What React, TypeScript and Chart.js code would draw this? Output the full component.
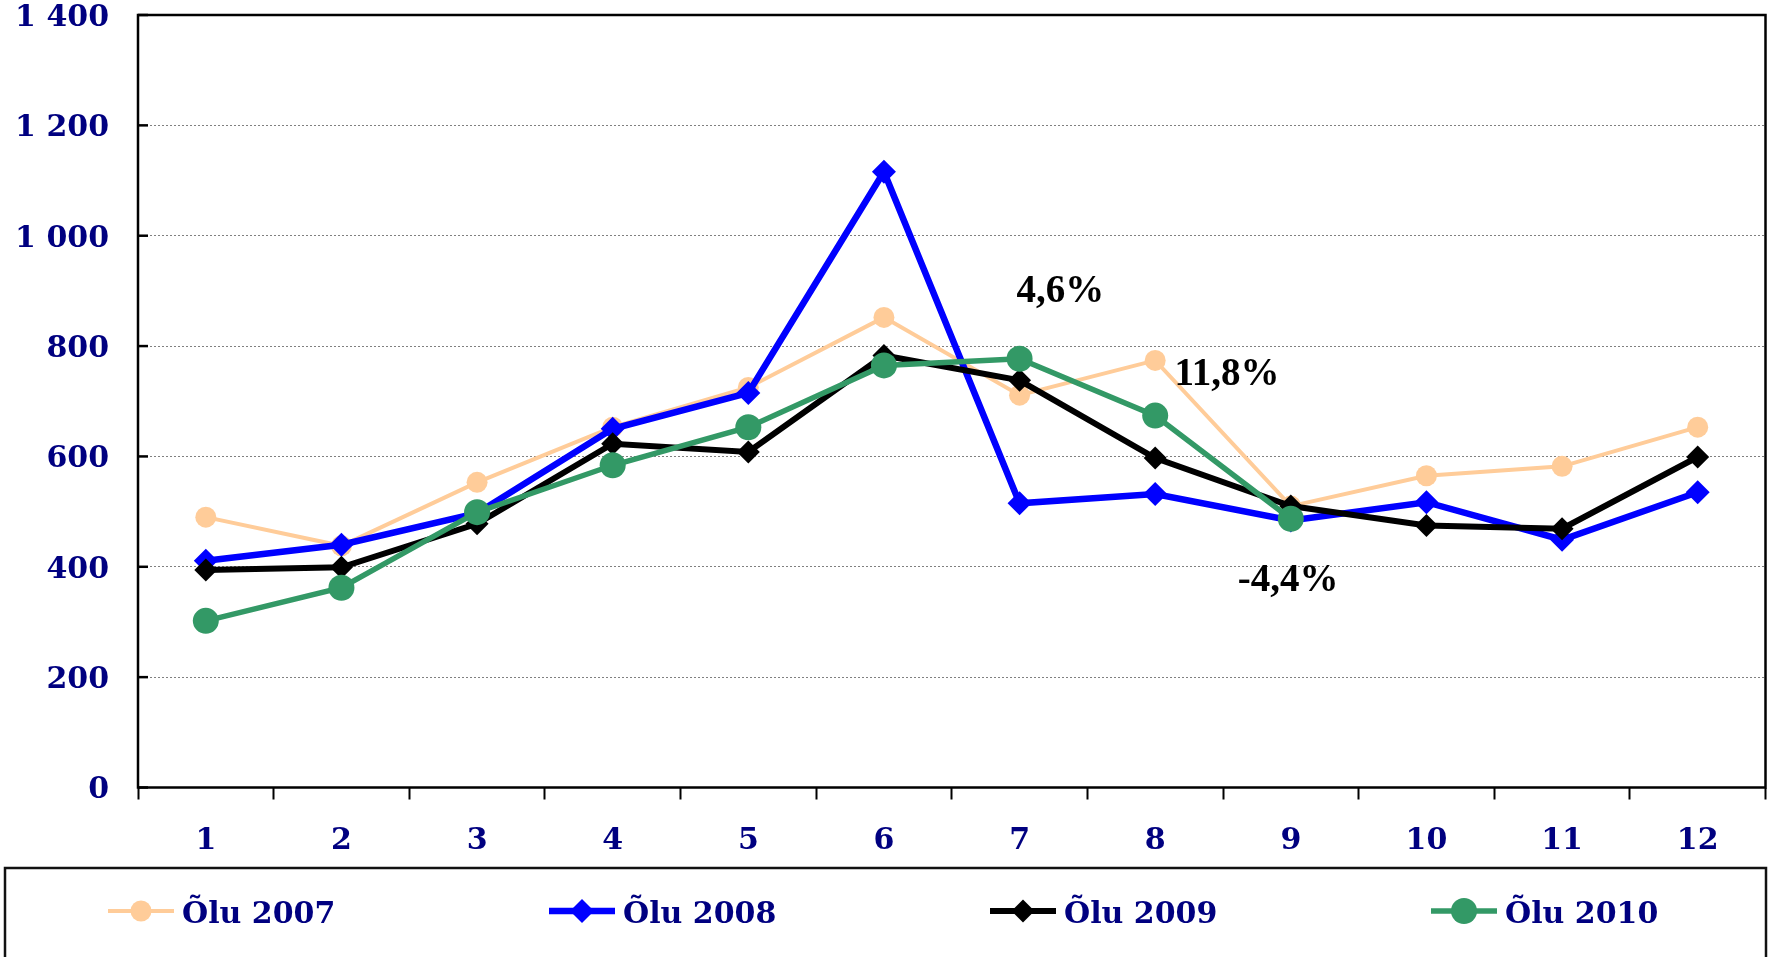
import React, { useEffect, useRef } from "react";
import { Chart, registerables } from "chart.js";

Chart.register(...registerables);

const months = ["1", "2", "3", "4", "5", "6", "7", "8", "9", "10", "11", "12"];
const olu2007 = [490, 438, 553, 653, 725, 852, 711, 774, 510, 565, 582, 653];
const olu2008 = [411, 440, 497, 650, 715, 1116, 515, 532, 484, 517, 449, 535];
const olu2009 = [394, 399, 478, 623, 608, 783, 738, 597, 510, 475, 469, 599];
const olu2010 = [302, 362, 499, 584, 653, 765, 777, 674, 487, null, null, null];

const seriesNames = ["Õlu 2007", "Õlu 2008", "Õlu 2009", "Õlu 2010"];

const noteTexts = ["4,6%", "11,8%", "-4,4%"];
const noteX = [6.3, 7.53, 7.98];
const noteY = [880, 729, 356];

const yMin = 0;
const yMax = 1400;
const yStep = 200;

const NAVY = "#000080";
const TICK_FONT = { family: "'DejaVu Serif', serif", size: 30, weight: "bold" as const };

function fmt(v: number) {
  return String(v).replace(/\B(?=(\d{3})+(?!\d))/g, " ");
}

const framePlugin = {
  id: "frame",
  beforeDatasetsDraw(chart: any) {
    const { ctx, chartArea } = chart;
    const y = chart.scales.y;
    ctx.save();
    ctx.strokeStyle = "#000";
    ctx.lineWidth = 2.5;
    ctx.strokeRect(chartArea.left, chartArea.top, chartArea.right - chartArea.left, chartArea.bottom - chartArea.top);
    y.ticks.forEach((t: any) => {
      const py = y.getPixelForValue(t.value);
      ctx.beginPath();
      ctx.moveTo(chartArea.left, py);
      ctx.lineTo(chartArea.left + 10, py);
      ctx.stroke();
    });
    ctx.restore();
  },
  afterDraw(chart: any) {
    const { ctx } = chart;
    const xs = chart.scales.x;
    const ys = chart.scales.y;
    ctx.save();
    // annotations
    ctx.fillStyle = "#000";
    ctx.font = "bold 39px 'Liberation Serif', serif";
    ctx.textAlign = "center";
    ctx.textBaseline = "alphabetic";
    noteTexts.forEach((t, i) => {
      ctx.fillText(t, xs.getPixelForValue(noteX[i]), ys.getPixelForValue(noteY[i]));
    });
    // legend box
    ctx.strokeStyle = "#111";
    ctx.lineWidth = 2.5;
    ctx.strokeRect(5, 868, 1761, 120);
    // legend items
    const startX = 108;
    const spacing = 441;
    const cy = 911;
    chart.data.datasets.forEach((ds: any, i: number) => {
      const x0 = startX + spacing * i;
      const x1 = x0 + 66;
      ctx.strokeStyle = ds.borderColor;
      ctx.lineWidth = ds.borderWidth;
      ctx.beginPath();
      ctx.moveTo(x0, cy);
      ctx.lineTo(x1, cy);
      ctx.stroke();
      ctx.fillStyle = ds.pointBackgroundColor;
      const cx = (x0 + x1) / 2;
      const r = ds.pointRadius;
      ctx.beginPath();
      if (ds.pointStyle === "rectRot") {
        ctx.moveTo(cx - r, cy);
        ctx.lineTo(cx, cy - r);
        ctx.lineTo(cx + r, cy);
        ctx.lineTo(cx, cy + r);
        ctx.closePath();
      } else {
        ctx.arc(cx, cy, r, 0, Math.PI * 2);
      }
      ctx.fill();
      ctx.fillStyle = NAVY;
      ctx.font = "bold 30px 'DejaVu Serif', serif";
      ctx.textAlign = "left";
      ctx.textBaseline = "alphabetic";
      ctx.fillText(seriesNames[i], x1 + 8, 923);
    });
    ctx.restore();
  },
};

export default function App() {
  const ref = useRef<HTMLCanvasElement | null>(null);
  useEffect(() => {
    document.body.style.margin = "0";
    const canvas = ref.current;
    if (!canvas) return;
    const mk = (label: string, data: any[], color: string, lw: number, style: string, r: number, order: number) => ({
      label,
      data,
      borderColor: color,
      backgroundColor: color,
      borderWidth: lw,
      pointStyle: style,
      pointRadius: r,
      pointHoverRadius: r,
      pointBackgroundColor: color,
      pointBorderColor: color,
      pointBorderWidth: 0,
      tension: 0,
      fill: false,
      spanGaps: false,
      order,
    });
    const chart = new Chart(canvas, {
      type: "line",
      data: {
        labels: months,
        datasets: [
          mk(seriesNames[0], olu2007, "#FFCC99", 4, "circle", 10.5, 3),
          mk(seriesNames[1], olu2008, "#0000FF", 6.5, "rectRot", 12, 2),
          mk(seriesNames[2], olu2009, "#000000", 6, "rectRot", 11.5, 1),
          mk(seriesNames[3], olu2010, "#339966", 5.5, "circle", 13, 0),
        ] as any,
      },
      options: {
        animation: false,
        responsive: false,
        maintainAspectRatio: false,
        layout: { autoPadding: false, padding: { top: 15, right: 3.5, left: 0, bottom: 0 } },
        plugins: { legend: { display: false }, tooltip: { enabled: false } },
        events: [],
        scales: {
          x: {
            type: "category",
            offset: true,
            grid: {
              offset: true,
              drawOnChartArea: false,
              drawTicks: true,
              tickLength: 12,
              tickColor: "#000",
              tickWidth: 2,
              color: "#000",
            },
            border: { display: false },
            ticks: {
              color: NAVY,
              font: TICK_FONT,
              padding: 24,
              maxRotation: 0,
              autoSkip: false,
            },
            afterFit: (s: any) => {
              s.height = 169.5;
              s.paddingLeft = 0;
              s.paddingRight = 0;
            },
          },
          y: {
            min: yMin,
            max: yMax,
            grid: {
              color: "#808080",
              lineWidth: 1,
              drawTicks: false,
            },
            border: { display: false, dash: [2, 2] },
            ticks: {
              stepSize: yStep,
              color: NAVY,
              font: TICK_FONT,
              padding: 29,
              labelOffset: 3,
              callback: (v: any) => fmt(Number(v)),
            },
            afterFit: (s: any) => {
              s.width = 138;
              s.paddingTop = 0;
              s.paddingBottom = 0;
            },
          },
        },
      } as any,
      plugins: [framePlugin],
    });
    return () => chart.destroy();
  }, []);
  return (
    <div style={{ position: "fixed", left: 0, top: 0, width: 1769, height: 957, background: "#fff" }}>
      <canvas ref={ref} width={1769} height={957} style={{ width: 1769, height: 957, display: "block" }} />
    </div>
  );
}
